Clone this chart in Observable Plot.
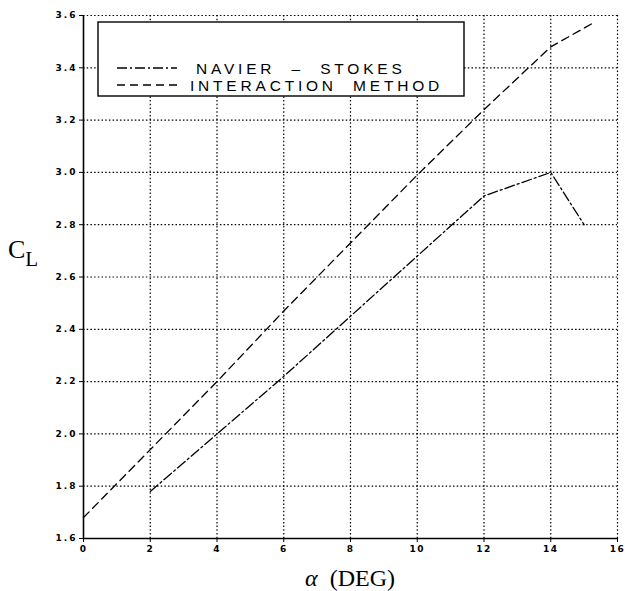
<!DOCTYPE html>
<html>
<head>
<meta charset="utf-8">
<script src="https://cdn.jsdelivr.net/npm/d3@7"></script>
<script src="https://cdn.jsdelivr.net/npm/@observablehq/plot@0.6"></script>
<style>
  html, body { margin: 0; padding: 0; background: #fff; }
  #chart svg { display: block; }
</style>
</head>
<body>
<div id="chart"></div>
<script>
// ---- data ----
const xTicks = [0, 2, 4, 6, 8, 10, 12, 14, 16];
const yTicks = [1.6, 1.8, 2.0, 2.2, 2.4, 2.6, 2.8, 3.0, 3.2, 3.4, 3.6];

const nsAlpha = [2, 4, 6, 8, 10, 12, 14, 15];
const nsCL    = [1.78, 2.0, 2.22, 2.45, 2.68, 2.91, 3.0, 2.8];

const imAlpha = [0, 2, 4, 6, 8, 10, 12, 14, 15.25];
const imCL    = [1.68, 1.94, 2.2, 2.47, 2.73, 2.99, 3.24, 3.48, 3.57];

const seriesNames = ["NAVIER  \u2013  STOKES", "INTERACTION  METHOD"];

const ns = nsAlpha.map((a, i) => ({alpha: a, cl: nsCL[i]}));
const im = imAlpha.map((a, i) => ({alpha: a, cl: imCL[i]}));

const dashNS = "10,3,2,3";
const dashIM = "8,5";
const dotted = "1.5,2.2";

const tickFont = "'DejaVu Sans', sans-serif";

const chart = Plot.plot({
  width: 625,
  height: 591,
  marginLeft: 83,
  marginRight: 8,
  marginTop: 15,
  marginBottom: 53,
  style: {background: "#fff", color: "#000", fontFamily: tickFont},
  x: {domain: [0, 16]},
  y: {domain: [1.6, 3.6]},
  marks: [
    Plot.gridX(xTicks.filter(d => d > 0), {stroke: "#000", strokeOpacity: 1, strokeWidth: 1.2, strokeDasharray: dotted}),
    Plot.gridY(yTicks.filter(d => d > 1.6), {stroke: "#000", strokeOpacity: 1, strokeWidth: 1.2, strokeDasharray: dotted}),
    Plot.line(im, {x: "alpha", y: "cl", stroke: "#000", strokeWidth: 1.3, strokeDasharray: dashIM}),
    Plot.line(ns, {x: "alpha", y: "cl", stroke: "#000", strokeWidth: 1.3, strokeDasharray: dashNS}),
    Plot.ruleX([0], {stroke: "#000", strokeWidth: 1.6}),
    Plot.ruleY([1.6], {stroke: "#000", strokeWidth: 1.6}),
    Plot.axisX({ticks: xTicks, tickSize: 4, tickPadding: 3, tickFormat: d => String(d), label: null,
      fontSize: 9, fontWeight: "bold"}),
    Plot.axisY({ticks: yTicks, tickSize: 4, tickPadding: 2, tickFormat: d => d.toFixed(1), label: null,
      fontSize: 9, fontWeight: "bold"})
  ]
});

const svg = d3.select(chart);
svg.selectAll("g[aria-label='x-axis tick label'] text").style("letter-spacing", "1.5px");
svg.selectAll("g[aria-label='y-axis tick label'] text").style("letter-spacing", "2px");

// legend box
const lg = svg.append("g").attr("class", "legend").attr("text-anchor", "start");
lg.append("rect").attr("x", 98).attr("y", 22).attr("width", 366).attr("height", 74)
  .attr("fill", "#fff").attr("stroke", "#000").attr("stroke-width", 1.4);
const rows = [{y: 68, dash: dashNS, tx: 196}, {y: 85, dash: dashIM, tx: 190}];
rows.forEach((r, i) => {
  lg.append("line").attr("x1", 117).attr("x2", 177).attr("y1", r.y).attr("y2", r.y)
    .attr("stroke", "#000").attr("stroke-width", 1.3).attr("stroke-dasharray", r.dash);
  lg.append("text").attr("x", r.tx).attr("y", r.y + 5.5).attr("text-anchor", "start").text(seriesNames[i])
    .attr("font-family", "'Liberation Sans', sans-serif").attr("font-size", 15.5)
    .attr("letter-spacing", "3.8px").attr("xml:space", "preserve").style("white-space", "pre");
});

// axis titles
const yl = svg.append("text").attr("x", 8).attr("y", 258).attr("text-anchor", "start")
  .attr("font-family", "'Liberation Serif', 'DejaVu Serif', serif").attr("font-size", 26);
yl.append("tspan").text("C");
yl.append("tspan").attr("dy", 8).attr("font-size", 21).text("L");

svg.append("text").attr("x", 350).attr("y", 586).attr("text-anchor", "middle")
  .attr("font-family", "'Liberation Serif', 'DejaVu Serif', serif").attr("font-size", 24)
  .html("<tspan font-style='italic'>\u03b1</tspan>  (DEG)").style("white-space", "pre");

document.getElementById("chart").appendChild(chart);
</script>
</body>
</html>
